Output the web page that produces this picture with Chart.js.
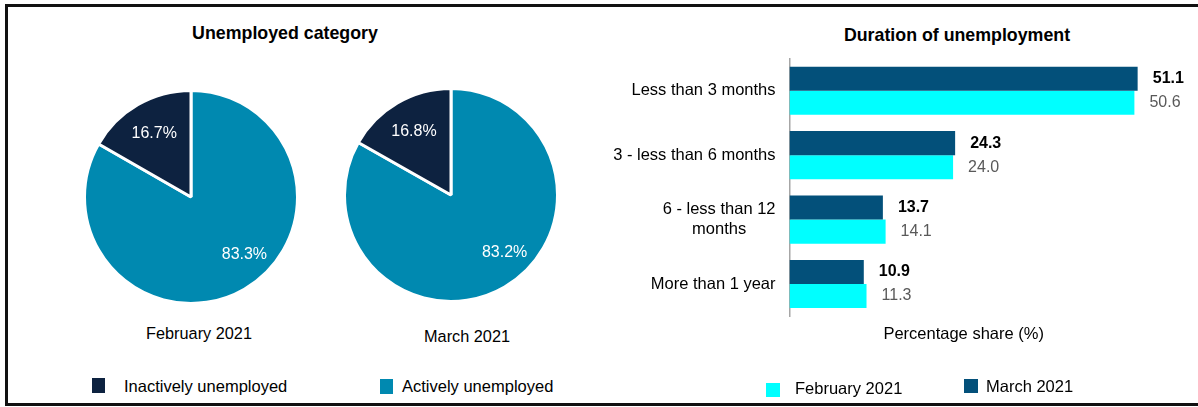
<!DOCTYPE html>
<html>
<head>
<meta charset="utf-8">
<script src="https://cdn.jsdelivr.net/npm/chart.js@4.4.1/dist/chart.umd.min.js"></script>
<style>
  body { margin:0; width:1198px; height:407px; overflow:hidden; background:#fff; position:relative;
         font-family:"Liberation Sans", Arial, sans-serif; }
  .abs { position:absolute; }
  #frame { left:5px; top:4px; width:1220px; height:402px; border:3px solid #111; border-right:none; box-sizing:border-box; }
  .t { white-space:nowrap; color:#000; font-size:16.3px; transform:translate(-50%,-50%); }
  .l { white-space:nowrap; color:#000; font-size:16.5px; transform:translateY(-50%); }
  .title { font-weight:bold; font-size:17.8px; }
  canvas { position:absolute; }
</style>
</head>
<body>
<div id="frame" class="abs"></div>

<div class="abs t title" style="left:285px;top:33px">Unemployed category</div>
<div class="abs t title" style="left:957px;top:35px">Duration of unemployment</div>

<canvas id="pieFeb" width="216" height="216" style="left:83px;top:89px;width:216px;height:216px"></canvas>
<canvas id="pieMar" width="216" height="216" style="left:343px;top:87px;width:216px;height:216px"></canvas>
<div class="abs t" style="left:199px;top:333px">February 2021</div>
<div class="abs t" style="left:467px;top:336px">March 2021</div>

<div id="sw1" class="abs" style="left:92px;top:378px;width:13px;height:15px"></div>
<div class="abs l" style="left:124px;top:386px">Inactively unemployed</div>
<div id="sw2" class="abs" style="left:380px;top:379px;width:13px;height:15px"></div>
<div class="abs l" style="left:402px;top:386px">Actively unemployed</div>

<canvas id="bars" width="598" height="407" style="left:600px;top:0px;width:598px;height:407px"></canvas>

<div id="sw3" class="abs" style="left:766px;top:383px;width:14px;height:14px"></div>
<div class="abs l" style="left:795px;top:388px">February 2021</div>
<div id="sw4" class="abs" style="left:964px;top:379px;width:14px;height:14px"></div>
<div class="abs l" style="left:986px;top:386px">March 2021</div>

<script>
const FONT = '"Liberation Sans", Arial, sans-serif';
Chart.defaults.font.family = FONT;

// pie data (clockwise from 12 o'clock)
const pieLabels = ["Actively unemployed", "Inactively unemployed"];
const febShares = [83.3, 16.7];
const marShares = [83.2, 16.8];
const pieColors = ["#0089b0", "#0d2240"];

// bar data
const durations = ["Less than 3 months", "3 - less than 6 months", ["6 - less than 12", "months"], "More than 1 year"];
const marDuration = [51.1, 24.3, 13.7, 10.9];
const febDuration = [50.6, 24.0, 14.1, 11.3];
const marColor = "#03507a";
const febColor = "#00ffff";

document.getElementById("sw1").style.background = pieColors[1];
document.getElementById("sw2").style.background = pieColors[0];
document.getElementById("sw3").style.background = febColor;
document.getElementById("sw4").style.background = marColor;

const pieText = {
  id: "pieText",
  afterDatasetsDraw(chart) {
    const ctx = chart.ctx;
    const meta = chart.getDatasetMeta(0);
    const vals = chart.data.datasets[0].data;
    ctx.save();
    ctx.font = "16px " + FONT;
    ctx.fillStyle = "#fff";
    ctx.textAlign = "center";
    ctx.textBaseline = "middle";
    meta.data.forEach((arc, i) => {
      // big slice label sits a little towards the right, as in the original
      const mid = (arc.startAngle + arc.endAngle) / 2 - (i === 0 ? 0.22 : 0);
      const r = arc.outerRadius * (i === 0 ? 0.74 : 0.69);
      ctx.fillText(vals[i].toFixed(1) + "%", arc.x + Math.cos(mid) * r, arc.y + Math.sin(mid) * r);
    });
    ctx.restore();
  }
};

function makePie(id, values) {
  new Chart(document.getElementById(id), {
    type: "pie",
    data: {
      labels: pieLabels,
      datasets: [{ data: values, backgroundColor: pieColors, borderColor: "#fff", borderWidth: 3 }]
    },
    options: {
      responsive: false,
      animation: false,
      plugins: { legend: { display: false }, tooltip: { enabled: false } }
    },
    plugins: [pieText]
  });
}
makePie("pieFeb", febShares);
makePie("pieMar", marShares);

const barText = {
  id: "barText",
  afterDatasetsDraw(chart) {
    const ctx = chart.ctx;
    ctx.save();
    ctx.textBaseline = "middle";
    ctx.textAlign = "left";
    chart.data.datasets.forEach((ds, d) => {
      const meta = chart.getDatasetMeta(d);
      ctx.font = (d === 0 ? "bold " : "") + "16px " + FONT;
      ctx.fillStyle = d === 0 ? "#000" : "#595959";
      meta.data.forEach((bar, i) => {
        ctx.fillText(ds.data[i].toFixed(1), bar.x + 15, bar.y);
      });
    });
    // category labels, lines centred inside a right-aligned block
    const ys = chart.scales.y;
    ctx.font = "16.5px " + FONT;
    ctx.fillStyle = "#000";
    ctx.textAlign = "center";
    chart.data.labels.forEach((lab, i) => {
      const lines = [].concat(lab);
      const w = Math.max(...lines.map(l => ctx.measureText(l).width));
      const cx = ys.right - 14 - w / 2;
      const cy = ys.getPixelForValue(i);
      lines.forEach((l, k) => ctx.fillText(l, cx, cy + (k - (lines.length - 1) / 2) * 20));
    });
    ctx.restore();
  }
};

new Chart(document.getElementById("bars"), {
  type: "bar",
  data: {
    labels: durations,
    datasets: [
      { label: "March 2021", data: marDuration, backgroundColor: marColor },
      { label: "February 2021", data: febDuration, backgroundColor: febColor }
    ]
  },
  options: {
    indexAxis: "y",
    responsive: false,
    animation: false,
    categoryPercentage: 0.747,
    barPercentage: 1,
    layout: { padding: { top: 58.5, right: 60.2, bottom: 59, left: 0 } },
    plugins: { legend: { display: false }, tooltip: { enabled: false } },
    scales: {
      x: {
        min: 0,
        max: Math.max(...marDuration, ...febDuration),
        grid: { display: false, drawTicks: false },
        border: { display: false },
        ticks: { display: false },
        title: { display: true, text: "Percentage share (%)", color: "#000", font: { size: 16.5 }, padding: { top: 8, bottom: 4 } }
      },
      y: {
        grid: { display: false, drawTicks: false },
        border: { display: true, color: "#a6a6a6", width: 1.5 },
        ticks: { display: false },
        afterFit(s) { s.width = 189.5; }
      }
    }
  },
  plugins: [barText]
});
</script>
</body>
</html>
